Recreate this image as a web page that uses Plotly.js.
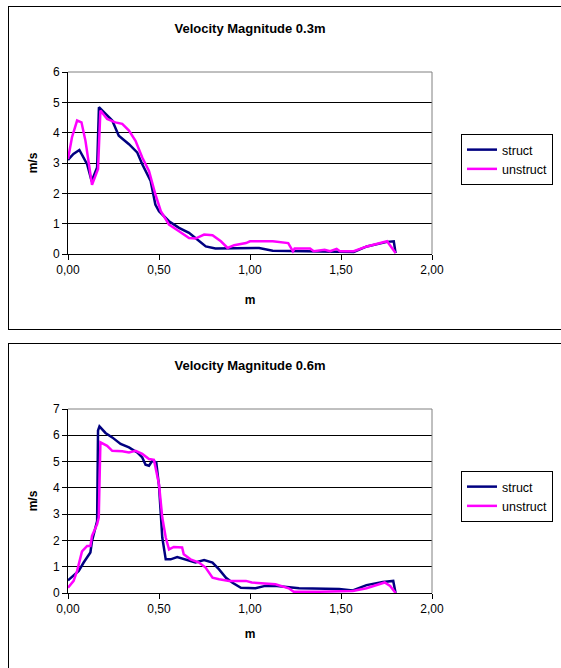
<!DOCTYPE html>
<html>
<head>
<meta charset="utf-8">
<script src="https://cdn.plot.ly/plotly-3.0.1.min.js"></script>
<style>
  html, body { margin: 0; padding: 0; background: #fff; width: 561px; height: 668px; overflow: hidden; }
  .box { position: absolute; left: 8px; width: 560px; border: 1px solid #000; box-sizing: border-box; }
  #c1 { top: 6px; height: 324px; }
  #c2 { top: 343px; height: 330px; }
</style>
</head>
<body>
<div id="c1" class="box"></div>
<div id="c2" class="box"></div>
<script>
// Velocity Magnitude 0.3m
const top_struct_x = [0, 0.03, 0.0625, 0.105, 0.13, 0.16, 0.17, 0.206, 0.243, 0.279, 0.335, 0.38, 0.408, 0.454, 0.48, 0.5, 0.555, 0.61, 0.665, 0.70, 0.757, 0.81, 0.94, 1.05, 1.125, 1.236, 1.4, 1.57, 1.642, 1.753, 1.79, 1.80];
const top_struct_y = [3.1, 3.3, 3.43, 2.96, 2.4, 2.85, 4.84, 4.62, 4.4, 3.9, 3.62, 3.35, 2.96, 2.41, 1.63, 1.41, 1.08, 0.86, 0.70, 0.53, 0.25, 0.18, 0.2, 0.2, 0.11, 0.09, 0.08, 0.07, 0.25, 0.4, 0.42, 0.03];
const top_unstruct_x = [0, 0.022, 0.05, 0.074, 0.096, 0.114, 0.132, 0.165, 0.178, 0.215, 0.26, 0.298, 0.335, 0.371, 0.408, 0.445, 0.48, 0.51, 0.555, 0.61, 0.665, 0.70, 0.748, 0.794, 0.84, 0.877, 0.913, 0.978, 1.0, 1.125, 1.21, 1.236, 1.245, 1.33, 1.35, 1.41, 1.44, 1.476, 1.494, 1.57, 1.642, 1.753, 1.80];
const top_unstruct_y = [3.13, 3.85, 4.4, 4.34, 3.73, 3.07, 2.28, 2.8, 4.73, 4.45, 4.34, 4.29, 4.07, 3.73, 3.18, 2.74, 1.97, 1.41, 0.97, 0.75, 0.53, 0.51, 0.64, 0.62, 0.42, 0.2, 0.29, 0.36, 0.42, 0.42, 0.36, 0.09, 0.18, 0.18, 0.09, 0.14, 0.09, 0.17, 0.09, 0.09, 0.25, 0.42, 0.03];

// Velocity Magnitude 0.6m
const bot_struct_x = [0, 0.031, 0.059, 0.086, 0.123, 0.132, 0.16, 0.165, 0.173, 0.206, 0.243, 0.289, 0.335, 0.38, 0.408, 0.426, 0.445, 0.463, 0.485, 0.5, 0.518, 0.537, 0.564, 0.60, 0.638, 0.70, 0.748, 0.794, 0.83, 0.868, 0.904, 0.95, 1.03, 1.083, 1.148, 1.213, 1.27, 1.49, 1.565, 1.64, 1.73, 1.787, 1.80];
const bot_struct_y = [0.48, 0.65, 0.84, 1.16, 1.54, 1.98, 2.74, 6.18, 6.34, 6.09, 5.92, 5.67, 5.54, 5.35, 5.16, 4.88, 4.84, 5.03, 4.97, 4.08, 2.11, 1.28, 1.28, 1.37, 1.28, 1.16, 1.25, 1.16, 0.9, 0.58, 0.39, 0.2, 0.18, 0.27, 0.27, 0.23, 0.18, 0.15, 0.1, 0.3, 0.42, 0.46, 0];
const bot_unstruct_x = [0, 0.031, 0.05, 0.077, 0.105, 0.123, 0.132, 0.16, 0.169, 0.178, 0.215, 0.243, 0.298, 0.335, 0.371, 0.408, 0.445, 0.472, 0.50, 0.518, 0.537, 0.555, 0.581, 0.627, 0.636, 0.673, 0.72, 0.756, 0.794, 0.83, 0.886, 0.978, 1.01, 1.14, 1.213, 1.24, 1.38, 1.565, 1.64, 1.74, 1.77, 1.80];
const bot_unstruct_y = [0.2, 0.46, 0.84, 1.58, 1.79, 1.79, 2.17, 2.62, 2.87, 5.73, 5.6, 5.41, 5.39, 5.35, 5.41, 5.29, 5.1, 5.07, 4.14, 2.87, 2.11, 1.66, 1.75, 1.73, 1.47, 1.28, 1.16, 0.97, 0.58, 0.52, 0.46, 0.46, 0.4, 0.33, 0.18, 0.05, 0.05, 0.08, 0.18, 0.4, 0.27, 0];

const seriesNames = ['struct', 'unstruct'];
const seriesColors = ['#000080', '#FF00FF'];
const xTicks = [0, 0.5, 1.0, 1.5, 2.0];

const FONT = 'Arial, "Liberation Sans", sans-serif';

function makeChart(id, title, sx, sy, ux, uy, ymax, H, plotH, xStandoff) {
  const bottomMargin = H - 65 - plotH;
  const traces = [
    { x: sx, y: sy, name: seriesNames[0], mode: 'lines', line: { color: seriesColors[0], width: 2.5 } },
    { x: ux, y: uy, name: seriesNames[1], mode: 'lines', line: { color: seriesColors[1], width: 2.5 } }
  ];
  const legendTopPx = 127;
  const layout = {
    width: 560, height: H,
    margin: { l: 59, r: 560 - 59 - 364, t: 65, b: bottomMargin, pad: 0 },
    paper_bgcolor: 'rgba(0,0,0,0)', plot_bgcolor: '#fff',
    separators: ', ',
    font: { family: FONT, size: 12, color: '#000' },
    title: { text: '<b>' + title + '</b>', font: { family: FONT, size: 13, color: '#000' },
             x: 0.5, xref: 'paper', xanchor: 'center', y: 1 - 21 / H, yref: 'container', yanchor: 'middle' },
    showlegend: true,
    legend: { x: (461 - 68) / 364, xanchor: 'left', y: 1 - (legendTopPx - 65) / plotH, yanchor: 'top',
              bgcolor: '#fff', bordercolor: '#000', borderwidth: 1, font: { family: FONT, size: 12.5, color: '#000' },
              itemwidth: 30, tracegroupgap: 0 },
    xaxis: { range: [0, 2], tickvals: xTicks, tickformat: '.2f', showgrid: false, zeroline: false,
             showline: true, linecolor: '#000', linewidth: 1, ticks: 'outside', ticklen: 5, tickcolor: '#000',
             tickfont: { size: 12 }, fixedrange: true,
             title: { text: '<b>m</b>', font: { size: 12 }, standoff: xStandoff } },
    yaxis: { range: [0, ymax], dtick: 1, showgrid: true, gridcolor: '#000', gridwidth: 1, zeroline: false,
             showline: true, linecolor: '#000', linewidth: 1, ticks: 'outside', ticklen: 5, tickcolor: '#000',
             tickfont: { size: 12 }, fixedrange: true,
             title: { text: '<b>m/s</b>', font: { size: 12 }, standoff: 12 } },
    shapes: [
      { type: 'line', xref: 'paper', yref: 'paper', x0: 0, x1: 1, y0: 1, y1: 1, line: { color: '#808080', width: 1 } },
      { type: 'line', xref: 'paper', yref: 'paper', x0: 1, x1: 1, y0: 0, y1: 1, line: { color: '#808080', width: 1 } }
    ]
  };
  Plotly.newPlot(id, traces, layout, { staticPlot: true, displayModeBar: false });
}

makeChart('c1', 'Velocity Magnitude 0.3m', top_struct_x, top_struct_y, top_unstruct_x, top_unstruct_y, 6, 322, 182, 19);
makeChart('c2', 'Velocity Magnitude 0.6m', bot_struct_x, bot_struct_y, bot_unstruct_x, bot_unstruct_y, 7, 328, 184, 14);
</script>
</body>
</html>
